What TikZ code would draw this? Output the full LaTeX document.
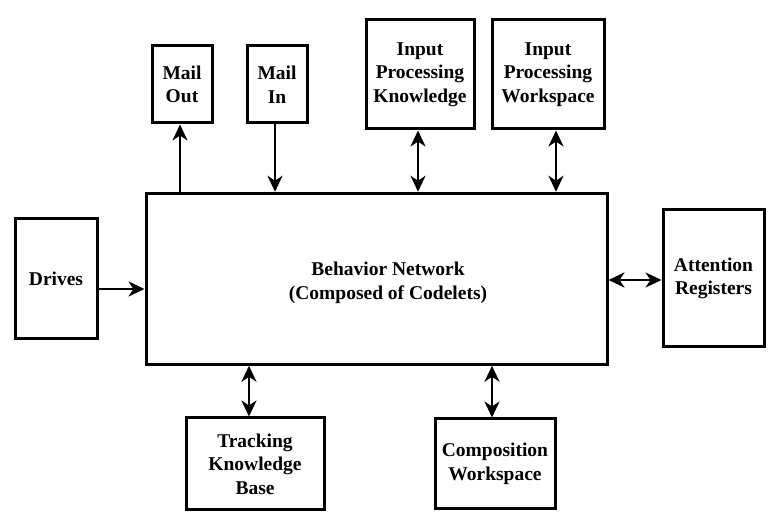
\documentclass[tikz,border=0pt]{standalone}
\usepackage{fontspec}
\setmainfont{Liberation Serif}[BoldFont={Liberation Serif Bold}]
\usetikzlibrary{arrows.meta}
\begin{document}
\begin{tikzpicture}[x=1pt,y=-1pt,
  box/.style={draw=black,line width=3pt,fill=white,inner sep=0pt,align=center,
    font=\fontsize{19.5}{23.5}\selectfont\bfseries},
  txt/.style={inner sep=0pt,align=center,font=\fontsize{19.5}{23.5}\selectfont\bfseries},
  tip/.style={},
  arr/.style={line width=2.5pt,-{Stealth[length=16pt,width=15pt,inset=5pt]}},
  darr/.style={line width=2.5pt,{Stealth[length=16pt,width=15pt,inset=5pt]}-{Stealth[length=16pt,width=15pt,inset=5pt]}}]
\useasboundingbox[fill=white] (0,0) rectangle (780,529);
\node[box,minimum width=461pt,minimum height=171pt] (main) at (376.5,278.75) {};
\node[txt] (maintext) at (388,283) {Behavior Network\\(Composed of Codelets)};
\node[box,minimum width=82pt,minimum height=120pt] (drives) at (56,279) {Drives};
\node[box,minimum width=60pt,minimum height=77pt] (mailout) at (182,84.5) {Mail\\Out};
\node[box,minimum width=60pt,minimum height=77pt] (mailin) at (277,84.5) {Mail\\In};
\node[box,minimum width=108pt,minimum height=109pt] (ipk) at (420,74.5) {Input\\Processing\\Knowledge};
\node[box,minimum width=112pt,minimum height=109pt] (ipw) at (548,74.5) {Input\\Processing\\Workspace};
\node[box,minimum width=101pt,minimum height=137pt] (att) at (713.5,278.5) {Attention\\Registers};
\node[box,minimum width=138pt,minimum height=92pt] (tkb) at (255,464) {Tracking\\Knowledge\\Base};
\node[box,minimum width=120pt,minimum height=90pt] (cw) at (495,464) {Composition\\Workspace};
\draw[arr] (180,0 |- main.north) -- (180,0 |- mailout.south);
\draw[arr] (275,0 |- mailin.south) -- (275,0 |- main.north);
\draw[darr] (418,0 |- ipk.south) -- (418,0 |- main.north);
\draw[darr] (556,0 |- ipw.south) -- (556,0 |- main.north);
\draw[arr] (drives.east |- 0,289) -- (main.west |- 0,289);
\draw[darr] (main.east |- 0,280) -- (att.west |- 0,280);
\draw[darr] (249,0 |- main.south) -- (249,0 |- tkb.north);
\draw[darr] (492,0 |- main.south) -- (492,0 |- cw.north);
\end{tikzpicture}
\end{document}
